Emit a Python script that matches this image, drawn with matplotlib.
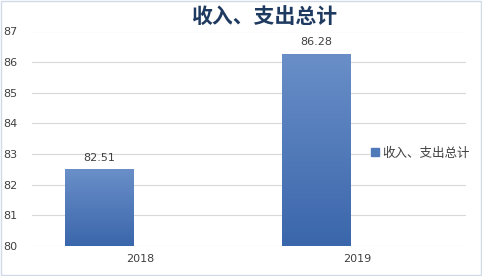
import matplotlib
matplotlib.use("Agg")
import matplotlib.pyplot as plt
import numpy as np
from matplotlib.patches import Rectangle
from matplotlib.colors import LinearSegmentedColormap

plt.rcParams['font.family'] = ['Noto Sans CJK SC', 'DejaVu Sans']

categories = ['2018', '2019']
values = [82.51, 86.28]
series_name = '收入、支出总计'
title = '收入、支出总计'
yticks = [80, 81, 82, 83, 84, 85, 86, 87]

fig = plt.figure(figsize=(4.82, 2.76), dpi=100)
ax = fig.add_axes([31.5/482, (276-246)/276, (466-31.5)/482, (246-31.5)/276])

x = np.arange(len(categories))
offset = -0.19
width = 0.315
bars = ax.bar(x + offset, values, width=width, bottom=0, color='#4f79b9', label=series_name, zorder=2)

grad = np.linspace(0, 1, 256).reshape(-1, 1)
cmap = LinearSegmentedColormap.from_list('g', ['#3a66ab', '#6a8fc8'])
for b in bars:
    x0, y0 = b.get_x(), 80
    h = b.get_y() + b.get_height()
    im = ax.imshow(grad, cmap=cmap, origin='lower', aspect='auto',
                   extent=[x0, x0 + b.get_width(), y0, h], zorder=3)
    im.set_clip_path(b)

for xi, v in zip(x, values):
    ax.text(xi + offset, v + 0.2, f'{v:.2f}', ha='center', va='bottom',
            fontsize=8, color='#404040', family=['DejaVu Sans'])

ax.set_xlim(-0.5, 1.5)
ax.set_ylim(80, 87)
ax.set_yticks(yticks)
ax.set_xticks(x)
ax.set_xticklabels(categories)
ax.tick_params(axis='both', length=0, labelsize=8, labelcolor='#404040')
ax.tick_params(axis='x', pad=6)
ax.tick_params(axis='y', pad=10)
for lbl in ax.get_xticklabels() + ax.get_yticklabels():
    lbl.set_family(['DejaVu Sans'])
ax.grid(axis='y', color='#d9d9d9', linewidth=0.8, zorder=0)
for s in ax.spines.values():
    s.set_visible(False)
ax.set_axisbelow(True)

fig.text(264/482, 1 - 17/276, title, ha='center', va='center', fontsize=15,
         fontweight='bold', color='#1f3a60')

leg = fig.legend(handles=[Rectangle((0, 0), 1, 1, color='#4f79b9')], labels=[series_name],
                 loc='center left', bbox_to_anchor=(370/482, 1 - 153/276), frameon=True,
                 fontsize=9, handlelength=0.6, handleheight=0.6, handletextpad=0.3,
                 borderpad=0.1, borderaxespad=0)
leg.get_frame().set_facecolor('white')
leg.get_frame().set_edgecolor('white')
for t in leg.get_texts():
    t.set_color('#404040')

fig.patches.append(Rectangle((0.002, 0.003), 0.995, 0.993, transform=fig.transFigure,
                             fill=False, edgecolor='#d0dbe8', linewidth=1))

fig.savefig('out.png', dpi=100)
